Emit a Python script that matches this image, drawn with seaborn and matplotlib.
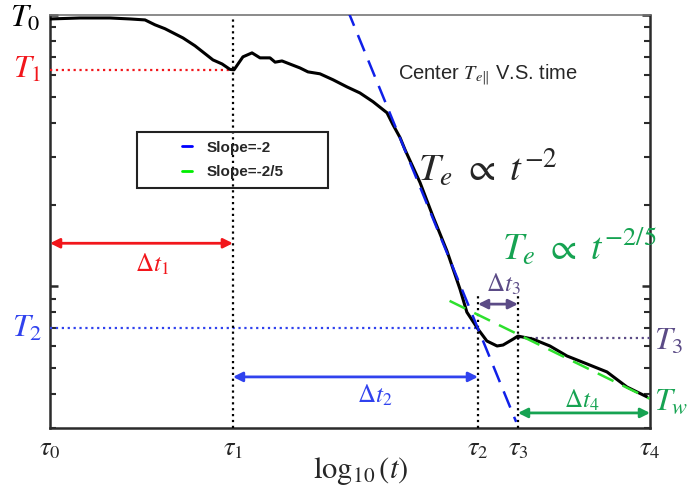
import matplotlib
matplotlib.use("Agg")
import matplotlib.pyplot as plt
from matplotlib.patches import Rectangle
from matplotlib.lines import Line2D
from matplotlib.ticker import FixedLocator, NullFormatter
import pandas as pd
import seaborn as sns

# Centre parallel electron temperature versus log10(t)
log_t = [0.000, 0.135, 0.270, 0.360, 0.428, 0.473, 0.518, 0.599, 0.653, 0.734,
         0.775, 0.811, 0.829, 0.847, 0.869, 0.910, 0.946, 0.991, 1.014, 1.045,
         1.090, 1.126, 1.162, 1.216, 1.275, 1.338, 1.396, 1.455, 1.518, 1.545,
         1.577, 1.599, 1.667, 1.725, 1.788, 1.847, 1.878, 1.928, 1.968, 2.014,
         2.041, 2.086, 2.108, 2.176, 2.252, 2.329, 2.419, 2.509, 2.599, 2.689]
temp = [9.67, 9.75, 9.75, 9.67, 9.59, 9.20, 8.90, 8.23, 7.70, 6.83,
        6.60, 6.30, 6.28, 6.60, 7.01, 7.25, 6.95, 6.95, 6.70, 6.77,
        6.55, 6.38, 6.17, 6.07, 5.77, 5.43, 5.16, 4.79, 4.36, 3.94,
        3.53, 3.19, 2.41, 1.81, 1.35, 0.975, 0.802, 0.695, 0.628, 0.602,
        0.607, 0.638, 0.655, 0.638, 0.602, 0.553, 0.517, 0.483, 0.425, 0.391]

# Power-law guides (slope -2 and slope -2/5 in log-log)
fit_steep_logt = [1.34, 2.10]
fit_steep_T = [10.47, 0.316]
fit_shallow_logt = [1.80, 2.70]
fit_shallow_T = [0.883, 0.385]

# Characteristic times and temperatures
tau_pos = [0.0, 0.824, 1.928, 2.108, 2.703]
tau_labels = [r'$\tau_0$', r'$\tau_1$', r'$\tau_2$', r'$\tau_3$', r'$\tau_4$']
T0, T1, T2, T3, Tw = 9.75, 6.28, 0.70, 0.644, 0.385

RED = '#f2161b'
BLUE = '#3042ee'
PURPLE = '#5b4b86'
GREEN = '#16a352'

sns.set_style("white")
plt.rcParams['mathtext.fontset'] = 'stix'
plt.rcParams['font.family'] = ['DejaVu Sans']

fig = plt.figure(figsize=(6.88, 4.87), dpi=100)
ax = fig.add_axes([0.0727, 0.1211, 0.8721, 0.8481])

curve = pd.DataFrame({'log_t': log_t, 'T': temp})
sns.lineplot(data=curve, x='log_t', y='T', color='black', lw=2.2, sort=False, ax=ax, zorder=4)

steep = pd.DataFrame({'log_t': fit_steep_logt, 'T': fit_steep_T})
shallow = pd.DataFrame({'log_t': fit_shallow_logt, 'T': fit_shallow_T})
sns.lineplot(data=steep, x='log_t', y='T', color='#1020e8', lw=1.8, ax=ax,
             linestyle=(0, (7, 4)), zorder=5)
sns.lineplot(data=shallow, x='log_t', y='T', color='#2ee02e', lw=1.8, ax=ax,
             linestyle=(0, (7, 4)), zorder=5)

ax.set_yscale('log')
ax.set_xlim(0, 2.703)
ax.set_ylim(0.3, 10)

# reference levels
ax.plot([0, tau_pos[1]], [T1, T1], color=RED, lw=1.6, ls=':', zorder=3)
ax.plot([0, tau_pos[2]], [T2, T2], color=BLUE, lw=1.6, ls=':', zorder=3)
ax.plot([tau_pos[3], tau_pos[4]], [T3, T3], color=PURPLE, lw=1.6, ls=':', zorder=3)

# time markers
ax.plot([tau_pos[1], tau_pos[1]], [0.3, 9.7], color='black', lw=1.6, ls=':', zorder=3)
for tp in (tau_pos[2], tau_pos[3]):
    ax.plot([tp, tp], [0.3, 0.935], color='black', lw=1.6, ls=':', zorder=3)

def span(x0, x1, y, color):
    ax.annotate('', xy=(x1, y), xytext=(x0, y),
                arrowprops=dict(arrowstyle='<|-|>', color=color, lw=2,
                                mutation_scale=14, shrinkA=0, shrinkB=0),
                zorder=6)

span(tau_pos[0], tau_pos[1], 1.44, RED)
span(tau_pos[1], tau_pos[2], 0.463, BLUE)
span(tau_pos[2], tau_pos[3], 0.859, PURPLE)
span(tau_pos[3], tau_pos[4], 0.341, GREEN)

lab = dict(ha='center', va='center', fontsize=18)
ax.text(0.459, 1.205, r'$\Delta t_1$', color=RED, **lab)
ax.text(1.464, 0.397, r'$\Delta t_2$', color=BLUE, **lab)
ax.text(2.041, 1.02, r'$\Delta t_3$', color=PURPLE, **lab)
ax.text(2.396, 0.378, r'$\Delta t_4$', color=GREEN, **lab)

# temperature labels outside the frame
tl = dict(ha='center', va='center', fontsize=23, clip_on=False)
ax.text(-0.113, 9.75, r'$T_0$', color='black', **tl)
ax.text(-0.104, T1, r'$T_1$', color=RED, **tl)
ax.text(-0.104, T2, r'$T_2$', color=BLUE, **tl)
ax.text(2.788, 0.625, r'$T_3$', color=PURPLE, **tl)
ax.text(2.797, 0.375, r'$T_w$', color=GREEN, **tl)

ax.text(1.568, 6.02, r'Center $T_{e\|}$ V.S. time', fontsize=14.5,
        family='Liberation Sans', va='center', ha='left')
ax.text(1.658, 2.74, r'$T_e\ \propto\ t^{-2}$', fontsize=28, va='center', ha='left')
ax.text(2.036, 1.40, r'$T_e\ \propto\ t^{-2/5}$', fontsize=27, color=GREEN,
        va='center', ha='left', clip_on=False)

# legend in a square box
ax.add_patch(Rectangle((0.145, 0.581), 0.318, 0.136, transform=ax.transAxes,
                       fill=False, ec='#222222', lw=1.5, zorder=7))
handles = [Line2D([0], [0], color='#0000ff', lw=2),
           Line2D([0], [0], color='#00ee00', lw=2)]
ax.legend(handles, ['Slope=-2', 'Slope=-2/5'], loc='center',
          bbox_to_anchor=(0.304, 0.649), frameon=False, handlelength=0.7,
          handletextpad=0.9, labelspacing=0.7,
          prop=dict(family='Liberation Sans', weight='bold', size=11))

# axes styling
for s in ax.spines.values():
    s.set_color('#2b2b2b')
    s.set_linewidth(1.8)
ax.spines['top'].set_color('#777777')
ax.spines['top'].set_linewidth(1.2)

ax.yaxis.set_major_locator(FixedLocator([1, 10]))
ax.yaxis.set_minor_locator(FixedLocator([0.3, 0.4, 0.5, 0.6, 0.7, 0.8, 0.9,
                                         2, 3, 4, 5, 6, 7, 8, 9]))
ax.yaxis.set_major_formatter(NullFormatter())
ax.yaxis.set_minor_formatter(NullFormatter())
ax.tick_params(axis='y', which='major', direction='in', length=6, width=1.8,
               left=True, right=True, color='#2b2b2b')
ax.tick_params(axis='y', which='minor', direction='in', length=4, width=1.5,
               left=True, right=True, color='#2b2b2b')

ax.set_xticks(tau_pos, labels=tau_labels)
ax.tick_params(axis='x', length=0, pad=5, labelsize=19)
ax.set_xlabel(r'$\log_{10}(t)$', fontsize=22)
ax.xaxis.set_label_coords(0.517, -0.065)
ax.set_ylabel('')

fig.savefig('out.png', dpi=100)
